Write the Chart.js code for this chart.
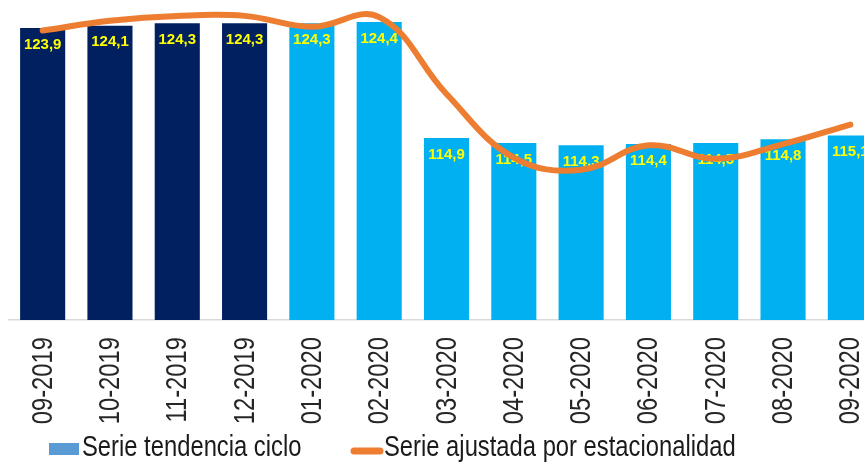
<!DOCTYPE html>
<html>
<head>
<meta charset="utf-8">
<title>Serie tendencia ciclo</title>
<script src="https://cdn.jsdelivr.net/npm/chart.js@4.4.1/dist/chart.umd.min.js"></script>
<style>
  html, body { margin: 0; padding: 0; background: #fff; overflow: hidden; }
  #contenedor { position: relative; width: 884px; height: 465px; }
</style>
</head>
<body>
<div id="contenedor"><canvas id="grafico"></canvas></div>
<script>
// Datos
const meses = ['09-2019', '10-2019', '11-2019', '12-2019', '01-2020', '02-2020', '03-2020',
               '04-2020', '05-2020', '06-2020', '07-2020', '08-2020', '09-2020'];
const tendenciaCiclo = [123.9, 124.1, 124.3, 124.3, 124.3, 124.4, 114.9, 114.5, 114.3, 114.4, 114.5, 114.8, 115.1];
const ajustadaEstacionalidad = [123.7, 124.5, 124.9, 124.9, 124.0, 124.8, 118.5, 113.3, 112.3, 114.3, 113.2, 114.4, 116.0];
const nombresSeries = ['Serie tendencia ciclo', 'Serie ajustada por estacionalidad'];
const ejeMin = 100;
const ejeMax = 126.2;

// no hay Arial Narrow: se usa Liberation Sans comprimida a lo largo del texto
const fuenteEje = '29px "Liberation Sans", Arial, sans-serif';
const estrecho = 0.82;

// colores: 2019 azul oscuro, 2020 celeste
const coloresBarras = meses.map(m => m.endsWith('2019') ? '#002060' : '#00B0F0');

// etiquetas amarillas dentro de las barras (debajo de la línea)
const etiquetasBarras = {
    id: 'etiquetasBarras',
    afterDatasetDraw(chart, args) {
        if (args.index !== 0) return;
        const ctx = chart.ctx;
        ctx.save();
        ctx.font = 'bold 15px "Liberation Sans", Arial, sans-serif';
        ctx.fillStyle = '#FFFF00';
        ctx.textAlign = 'center';
        ctx.textBaseline = 'middle';
        args.meta.data.forEach((barra, i) => {
            const texto = tendenciaCiclo[i].toFixed(1).replace('.', ',');
            ctx.fillText(texto, barra.x, barra.y + 16.5);
        });
        ctx.restore();
    }
};

// etiquetas del eje x, verticales y estrechas
const etiquetasEje = {
    id: 'etiquetasEje',
    afterDraw(chart) {
        const ctx = chart.ctx;
        const escalaX = chart.scales.x;
        const arriba = chart.chartArea.bottom + 17;
        ctx.save();
        ctx.font = fuenteEje;
        ctx.fillStyle = '#262626';
        ctx.textAlign = 'right';
        ctx.textBaseline = 'middle';
        meses.forEach((m, i) => {
            const x = escalaX.getPixelForTick(i);
            ctx.save();
            ctx.translate(x + 1, arriba);
            ctx.rotate(-Math.PI / 2);
            ctx.scale(estrecho, 1);
            ctx.fillText(m, 0, 0);
            ctx.restore();
        });
        ctx.restore();
    }
};

// leyenda dibujada a mano abajo
const leyenda = {
    id: 'leyenda',
    afterDraw(chart) {
        const ctx = chart.ctx;
        const ds = chart.data.datasets;
        ctx.save();
        ctx.fillStyle = '#5B9BD5';
        ctx.fillRect(49, 443, 30, 12);
        ctx.strokeStyle = '#ED7D31';
        ctx.lineWidth = 7;
        ctx.lineCap = 'round';
        ctx.beginPath();
        ctx.moveTo(354, 451);
        ctx.lineTo(380, 451);
        ctx.stroke();
        ctx.font = fuenteEje;
        ctx.fillStyle = '#1a1a1a';
        ctx.textBaseline = 'alphabetic';
        ctx.scale(estrecho, 1);
        ctx.fillText(ds[0].label, 82 / estrecho, 456);
        ctx.fillText(ds[1].label, 384 / estrecho, 456);
        ctx.restore();
    }
};

const canvas = document.getElementById('grafico');
new Chart(canvas.getContext('2d'), {
    data: {
        labels: meses,
        datasets: [{
            type: 'bar',
            label: nombresSeries[0],
            data: tendenciaCiclo,
            backgroundColor: coloresBarras,
            borderWidth: 0,
            categoryPercentage: 1,
            barPercentage: 0.67,
            order: 2
        }, {
            type: 'line',
            label: nombresSeries[1],
            data: ajustadaEstacionalidad,
            borderColor: '#ED7D31',
            borderWidth: 6,
            borderCapStyle: 'round',
            tension: 0.4,
            pointRadius: 0,
            fill: false,
            order: 1
        }]
    },
    options: {
        responsive: true,
        maintainAspectRatio: false,
        animation: false,
        layout: { padding: { left: 9, right: 0, top: 0, bottom: 0 } },
        plugins: {
            legend: { display: false },
            tooltip: { enabled: false }
        },
        scales: {
            x: {
                grid: { display: false, drawTicks: false },
                border: { display: true, color: '#D9D9D9', width: 1.5 },
                ticks: { display: false },
                afterFit(scale) { scale.height = 145; }
            },
            y: {
                display: false,
                min: ejeMin,
                max: ejeMax
            }
        }
    },
    plugins: [etiquetasBarras, etiquetasEje, leyenda]
});
</script>
</body>
</html>
